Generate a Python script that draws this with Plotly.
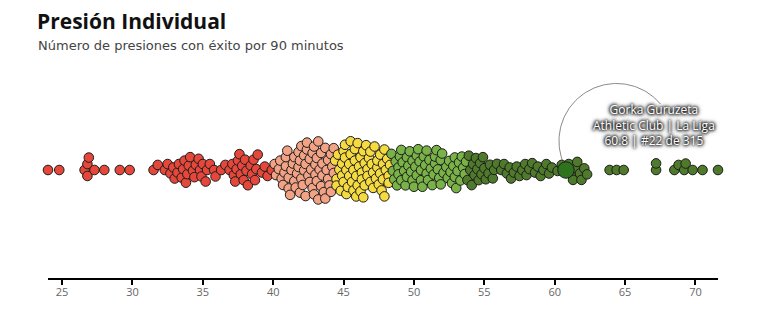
import numpy as np
import plotly.graph_objects as go

# Successful pressures per 90 minutes, one value per player (315 players),
# grouped by quintile band.
banda_1 = [24.0, 24.8, 26.6, 26.8, 26.8, 26.9, 27.3, 28.0, 29.1, 29.8, 31.5, 31.8,
           32.3, 32.5, 32.7, 32.9,
           33.0, 33.2, 33.3, 33.5, 33.6, 33.7, 33.8, 33.9,
           34.0, 34.1, 34.3, 34.4, 34.5, 34.7, 34.8, 34.9,
           35.0, 35.2, 35.3, 35.5, 35.8, 35.9,
           36.3, 36.6, 36.9,
           37.1, 37.2, 37.3, 37.4, 37.5, 37.6, 37.7, 37.8, 37.9,
           38.0, 38.1, 38.2, 38.4, 38.5, 38.6, 38.7, 38.8, 38.9,
           39.2, 39.4, 39.6, 39.9]
banda_2 = [40.1, 40.2, 40.4, 40.5, 40.6, 40.7, 40.8, 40.9, 40.9,
           41.0, 41.1, 41.1, 41.2, 41.3, 41.4, 41.5, 41.5, 41.6, 41.7, 41.8, 41.8, 41.9, 41.9,
           42.0, 42.0, 42.1, 42.2, 42.2, 42.3, 42.3, 42.4, 42.4, 42.5, 42.6, 42.6, 42.7,
           42.8, 42.8, 42.9, 42.9,
           43.0, 43.0, 43.1, 43.1, 43.2, 43.2, 43.3, 43.4, 43.4, 43.5, 43.5, 43.6, 43.7,
           43.7, 43.8, 43.9, 43.9,
           44.0, 44.1, 44.1, 44.2, 44.3, 44.3]
banda_3 = [44.4, 44.5, 44.5, 44.6, 44.7, 44.8, 44.9, 44.9,
           45.0, 45.0, 45.1, 45.1, 45.2, 45.2, 45.3, 45.4, 45.4, 45.5, 45.5, 45.6, 45.7,
           45.7, 45.8, 45.8, 45.9, 45.9,
           46.0, 46.0, 46.1, 46.2, 46.2, 46.3, 46.3, 46.4, 46.4, 46.5, 46.5, 46.6, 46.7,
           46.7, 46.8, 46.9, 46.9,
           47.0, 47.1, 47.1, 47.2, 47.3, 47.4, 47.4, 47.5, 47.6, 47.6, 47.7, 47.8, 47.8,
           47.9, 47.9,
           48.0, 48.1, 48.2, 48.2, 48.3]
banda_4 = [48.4, 48.5, 48.6, 48.7, 48.8, 48.9, 48.9,
           49.0, 49.1, 49.1, 49.2, 49.3, 49.4, 49.5, 49.5, 49.6, 49.7, 49.8, 49.9, 49.9,
           50.0, 50.1, 50.2, 50.2, 50.3, 50.4, 50.5, 50.5, 50.6, 50.7, 50.8, 50.9, 50.9,
           51.0, 51.1, 51.2, 51.3, 51.4, 51.5, 51.5, 51.6, 51.7, 51.8, 51.9, 51.9,
           52.0, 52.1, 52.3, 52.4, 52.5, 52.6, 52.7, 52.8, 52.9, 52.9,
           53.0, 53.1, 53.2, 53.3, 53.4, 53.5, 53.6, 53.7]
banda_5 = [53.8, 53.9,
           54.0, 54.1, 54.2, 54.3, 54.4, 54.5, 54.6, 54.7, 54.8, 54.9,
           55.0, 55.1, 55.3, 55.4, 55.6, 55.7, 55.9,
           56.2, 56.4, 56.6, 56.8, 56.9,
           57.1, 57.3, 57.5, 57.7, 57.9,
           58.0, 58.2, 58.4, 58.6, 58.8,
           59.0, 59.2, 59.4, 59.6, 59.8,
           60.2, 60.5, 60.8,
           61.0, 61.2, 61.3, 61.5, 61.6, 61.8, 61.9,
           62.1, 62.3,
           63.9, 64.4, 64.9, 67.2, 67.2, 68.5, 68.8, 69.2, 69.3, 69.8, 70.5, 71.6]

bandas = [banda_1, banda_2, banda_3, banda_4, banda_5]
colores = ["#e5483b", "#f2a285", "#f5db40", "#79b246", "#4f7a2b"]

jugador = "Gorka Guruzeta"
equipo = "Athletic Club"
liga = "La Liga"
valor_jugador = 60.8

titulo = "Presión Individual"
subtitulo = "Número de presiones con éxito por 90 minutos"
ticks = [25, 30, 35, 40, 45, 50, 55, 60, 65, 70]

# ---- geometry --------------------------------------------------------------
W, H = 777, 321
ML, MR, MT, MB = 48, 59, 60, 43
PW, PH = W - ML - MR, H - MT - MB
BASE = 170                      # pixel row of the swarm centre line
Y_TOP = BASE - MT               # y axis runs in pixels, 0 at the centre line
Y_BOT = -(PH - Y_TOP)

vals = np.concatenate([np.array(b, float) for b in bandas])
cols = np.concatenate([[c] * len(b) for b, c in zip(bandas, colores)])
xmin, xmax = vals.min(), vals.max()
PX = PW / (xmax - xmin)
xs = (vals - xmin) * PX

# ---- beeswarm: greedy placement closest to the centre line ------------------
D = 6.6
idx_j = int(np.argmin(np.abs(vals - valor_jugador)))
order = [idx_j] + [i for i in np.argsort(vals, kind="stable") if i != idx_j]
ys = np.zeros(len(vals))
placed = []
for i in order:
    near = [j for j in placed if abs(xs[i] - xs[j]) < D]
    cands = [0.0]
    for j in near:
        dy = np.sqrt(D * D - (xs[i] - xs[j]) ** 2)
        cands += [ys[j] + dy, ys[j] - dy]
    cands.sort(key=lambda c: (round(abs(c), 6), -c))
    for c in cands:
        if all((xs[i] - xs[j]) ** 2 + (c - ys[j]) ** 2 >= D * D - 1e-6 for j in near):
            ys[i] = c
            break
    placed.append(i)

otros = [i for i in range(len(vals)) if i != idx_j]

fig = go.Figure()

# callout arc from the highlighted player towards the label
cx_px = xs[idx_j] + 50.5
cy = ys[idx_j] + 29
r = 57.5
th = np.radians(np.linspace(207, 40, 80))
fig.add_trace(go.Scatter(
    x=xmin + (cx_px + r * np.cos(th)) / PX, y=cy + r * np.sin(th),
    mode="lines", line=dict(color="#8a8a8a", width=1), hoverinfo="skip",
    showlegend=False))

fig.add_trace(go.Scatter(
    x=vals[otros], y=ys[otros], mode="markers",
    marker=dict(size=9.6, color=cols[otros], line=dict(color="#1c1c1c", width=1)),
    cliponaxis=False, hoverinfo="skip", showlegend=False))

fig.add_trace(go.Scatter(
    x=[vals[idx_j]], y=[ys[idx_j]], mode="markers",
    marker=dict(size=16.5, color="#2f731f", line=dict(color="#1c1c1c", width=1)),
    cliponaxis=False, hoverinfo="skip", showlegend=False))

# heavier outer ticks at both ends of the axis
for xv in (xmin, xmax):
    fig.add_shape(type="line", x0=xv, x1=xv, y0=Y_BOT, y1=Y_BOT - 5.5,
                  line=dict(color="black", width=3), layer="above")

rank = int((vals > valor_jugador).sum()) + 1
etiqueta = (f"{jugador}<br>{equipo} | {liga}<br>"
            f"{valor_jugador:.1f} | #{rank} de {len(vals)}")


def px_x(p):
    return (p - ML) / PW


def px_y(p):
    return (MT + PH - p) / PH


fig.add_annotation(x=px_x(35), y=px_y(21), xref="paper", yref="paper",
                   xanchor="left", yanchor="middle", showarrow=False,
                   text=f"<b>{titulo}</b>",
                   font=dict(family="Open Sans", size=21, color="#111111"))
fig.add_annotation(x=px_x(36), y=px_y(46), xref="paper", yref="paper",
                   xanchor="left", yanchor="middle", showarrow=False,
                   text=subtitulo,
                   font=dict(family="DejaVu Sans", size=13, color="#444444"))
fig.add_annotation(x=xmin + (xs[idx_j] + 88) / PX, y=ys[idx_j] + 45.5,
                   xref="x", yref="y", xanchor="center", yanchor="middle",
                   showarrow=False, text=etiqueta, align="center",
                   font=dict(family="Open Sans", size=12, color="white",
                             shadow="0px 0px 3px #000, 0px 0px 3px #000, "
                                    "0px 0px 4px #222, 0px 0px 5px #444"))

fig.update_layout(
    width=W, height=H, margin=dict(l=ML, r=MR, t=MT, b=MB),
    paper_bgcolor="white", plot_bgcolor="white",
    xaxis=dict(range=[xmin, xmax], showgrid=False, zeroline=False,
               showline=True, linecolor="black", linewidth=2,
               ticks="outside", ticklen=5, tickwidth=2, tickcolor="black",
               ticklabelstandoff=-2,
               tickvals=ticks, tickfont=dict(family="Open Sans", size=11, color="#666666")),
    yaxis=dict(range=[Y_BOT, Y_TOP], visible=False, fixedrange=True),
)

fig.write_html("out.html")
